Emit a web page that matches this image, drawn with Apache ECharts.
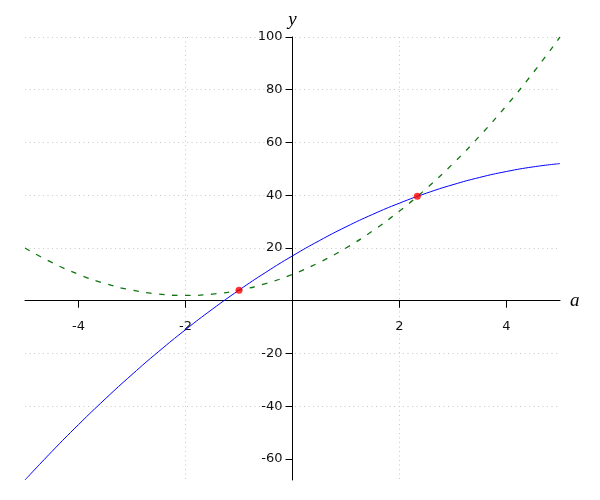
<!DOCTYPE html>
<html>
<head>
<meta charset="utf-8">
<script src="https://cdn.jsdelivr.net/npm/echarts@6/dist/echarts.min.js"></script>
<style>html,body{margin:0;padding:0;background:#fff}#c{width:600px;height:500px}</style>
</head>
<body>
<div id="c"></div>
<script>
var xValues = [-5,-4.5,-4,-3.5,-3,-2.5,-2,-1.5,-1,-0.5,0,0.5,1,1.5,2,2.5,3,3.5,4,4.5,5];
var blueValues = [-68,-57.25,-47,-37.25,-28,-19.25,-11,-3.25,4,10.75,17,22.75,28,32.75,37,40.75,44,46.75,49,50.75,52];
var greenValues = [20,14.5,10,6.5,4,2.5,2,2.5,4,6.5,10,14.5,20,26.5,34,42.5,52,62.5,74,86.5,100];
var pointX = [-1, 2.333];
var pointY = [4, 39.56];
var xTicks = [-4,-2,2,4];
var yTicks = [-60,-40,-20,20,40,60,80,100];

function pairs(xs, ys){ return xs.map(function(x,i){ return [x, ys[i]]; }); }

var GRID = {left:25, right:40, top:37, bottom:20};
var chart = echarts.init(document.getElementById('c'));
var labelFont = {fontFamily:'DejaVu Sans', fontSize:13, color:'#111'};
var gridLine = {color:'#c8c8c8', type:[1,3.5], width:1};
chart.setOption({
  animation:false,
  grid:{left:GRID.left, right:GRID.right, top:GRID.top, bottom:GRID.bottom, outerBoundsMode:'none', containLabel:false},
  xAxis:{
    type:'value', min:-5, max:5, offset:0,
    name:'a', nameLocation:'end', nameGap:10,
    nameTextStyle:{fontFamily:'Liberation Serif', fontStyle:'italic', fontSize:19, color:'#000', verticalAlign:'middle'},
    axisLine:{onZero:false, lineStyle:{color:'#000', width:1}},
    axisTick:{show:true, length:7, inside:false, customValues:xTicks, lineStyle:{color:'#000'}},
    axisLabel:Object.assign({customValues:xTicks, margin:19}, labelFont),
    splitLine:{show:true, customValues:xTicks, showMinLine:false, showMaxLine:false, lineStyle:gridLine}
  },
  yAxis:{
    type:'value', min:-68, max:100, offset:0,
    name:'y', nameLocation:'end', nameGap:8,
    nameTextStyle:{fontFamily:'Liberation Serif', fontStyle:'italic', fontSize:19, color:'#000', align:'center'},
    axisLine:{onZero:false, lineStyle:{color:'#000', width:1}},
    axisTick:{show:true, length:7, inside:false, customValues:yTicks, lineStyle:{color:'#000'}},
    axisLabel:Object.assign({customValues:yTicks, margin:10}, labelFont),
    splitLine:{show:true, customValues:yTicks, showMinLine:false, lineStyle:gridLine}
  },
  series:[
    {type:'line', data:pairs(xValues, greenValues), smooth:true, showSymbol:false, silent:true,
     lineStyle:{color:'#127512', width:1.3, type:[5.5,7.5]}},
    {type:'line', data:pairs(xValues, blueValues), smooth:true, showSymbol:false, silent:true,
     lineStyle:{color:'#0000ff', width:1}},
    {type:'scatter', data:pairs(pointX, pointY), symbolSize:7, itemStyle:{color:'#ff0000'}, z:5}
  ]
});
// Move both axes so they cross at the data origin (0,0), using the chart's own scales.
var origin = chart.convertToPixel({gridIndex:0}, [0, 0]);
var gridBottomPx = 500 - GRID.bottom;
chart.setOption({
  xAxis:{offset: origin[1] - gridBottomPx},
  yAxis:{offset: GRID.left - origin[0]}
});
</script>
</body>
</html>
